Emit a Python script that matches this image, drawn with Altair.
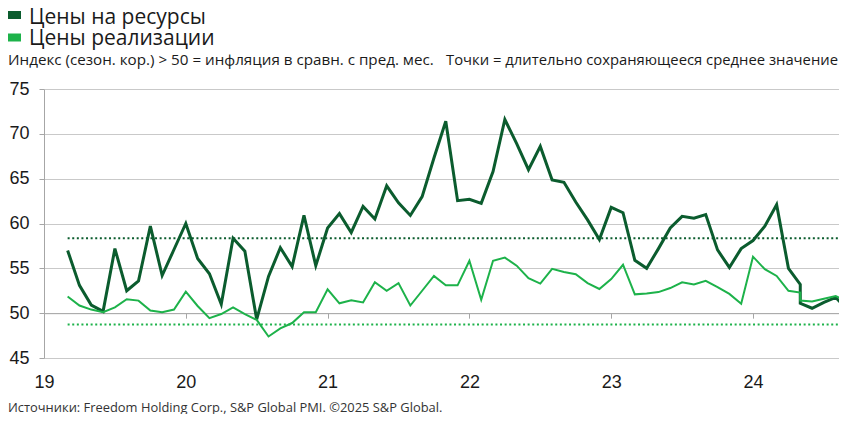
import altair as alt
import pandas as pd

# ---------------- data ----------------
months = (
    ["2019-%02d" % m for m in range(3, 13)]
    + ["%d-%02d" % (y, m) for y in range(2020, 2024) for m in range(1, 13)]
    + ["2024-01", "2024-02", "2024-03", "2024-04", "2024-05", "2024-05",
       "2024-06", "2024-07", "2024-08", "2024-09"]
)

input_prices = [
    57.0, 53.1, 50.9, 50.2, 57.2, 52.5, 53.6, 59.7, 54.2, 57.1,
    60.0, 56.1, 54.4, 51.0, 58.35, 56.9, 49.3, 54.1, 57.3, 55.2, 60.9, 55.3,
    59.5, 61.1, 59.0, 61.9, 60.5, 64.2, 62.3, 60.9, 63.0, 67.3, 71.4, 62.55,
    62.7, 62.25, 65.8, 71.6, 68.9, 66.0, 68.6, 64.85, 64.6, 62.4, 60.4, 58.2,
    61.8, 61.2, 55.9, 55.0, 57.2, 59.5, 60.8, 60.6, 61.0, 57.05, 55.1, 57.2,
    58.1, 59.7, 62.1, 55.0, 53.2, 51.1, 50.55, 51.2, 51.75, 50.4,
]

output_prices = [
    51.85, 50.85, 50.4, 50.1, 50.65, 51.55, 51.4, 50.3, 50.1, 50.4,
    52.4, 50.8, 49.45, 49.9, 50.65, 49.9, 49.25, 47.4, 48.3, 48.9, 50.1, 50.1,
    52.65, 51.1, 51.45, 51.2, 53.45, 52.5, 53.35, 50.85, 52.5, 54.15, 53.1, 53.1,
    55.85, 51.5, 55.85, 56.2, 55.3, 53.9, 53.3, 54.95, 54.6, 54.35, 53.35, 52.7,
    53.8, 55.4, 52.1, 52.2, 52.35, 52.8, 53.45, 53.2, 53.6, 52.9, 52.15, 51.05,
    56.3, 54.9, 54.15, 52.5, 52.3, 51.4, 51.3, 51.6, 51.9, 51.35,
]

series_names = ["Цены на ресурсы", "Цены реализации"]
series_colors = ["#0b5c2e", "#1db24a"]
long_run_avg = [58.35, 48.75]
year_labels = ["19", "20", "21", "22", "23", "24"]
y_ticks = [45, 50, 55, 60, 65, 70, 75]

subtitle_left = "Индекс (сезон. кор.) > 50 = инфляция в сравн. с пред. мес."
subtitle_right = "Точки = длительно сохраняющееся среднее значение"
source_text = "Источники: Freedom Holding Corp., S&P Global PMI. ©2025 S&P Global."

# ---------------- tables ----------------
def month_index(s):
    y, m = s.split("-")
    return (int(y) - 2019) * 12 + int(m) - 1

rows = []
for name, vals in zip(series_names, [input_prices, output_prices]):
    for i, (mo, v) in enumerate(zip(months, vals)):
        rows.append({"series": name, "m": month_index(mo), "v": v, "ord": i})
df = pd.DataFrame(rows)

first_m = month_index(months[0])
last_m = month_index(months[-1])
avg_rows = []
for name, a in zip(series_names, long_run_avg):
    avg_rows.append({"series": name, "m": first_m, "v": a})
    avg_rows.append({"series": name, "m": last_m, "v": a})
df_avg = pd.DataFrame(avg_rows)

# layout: page is 847 wide with an 8px body margin on each side
W, H = 795, 269
YEAR_PX = 141.8  # pixel width of one year on the reference
FONT = "Open Sans"
AX_FONT = "Liberation Sans"

x_domain = [0, W / (YEAR_PX / 12)]
year_ticks = [12 * i for i in range(len(year_labels))]
label_expr = "[" + ",".join("'%s'" % s for s in year_labels) + "][round(datum.value/12)]"

color_scale = alt.Scale(domain=series_names, range=series_colors)
x_scale = alt.Scale(domain=x_domain, nice=False, zero=False)

y_axis = alt.Axis(
    values=y_ticks, grid=True, gridColor="#c9c9c9", gridWidth=1,
    domainColor="#a6a6a6", tickColor="#a6a6a6", tickSize=5,
    labelFont=AX_FONT, labelFontSize=18, labelColor="#1a1a1a", labelPadding=10,
    title=None, orient="left",
)
y_enc = alt.Y("v:Q", scale=alt.Scale(domain=[45, 75], nice=False, zero=False), axis=y_axis)

# dotted long-run averages, carrying the axis line at 50 with the year ticks
avg_layer = alt.Chart(df_avg).mark_line(strokeWidth=2, strokeDash=[2, 2.6]).encode(
    x=alt.X("m:Q", scale=x_scale,
            axis=alt.Axis(values=year_ticks, labels=False, grid=False, ticks=True,
                          tickSize=5, tickColor="#a6a6a6", domainColor="#a6a6a6",
                          orient="bottom", offset=-H * 5 / 30, title=None)),
    y=y_enc,
    color=alt.Color("series:N", scale=color_scale, legend=None),
    detail="series:N",
)

line_layer = alt.Chart(df).mark_line(strokeJoin="miter").encode(
    x=alt.X("m:Q", scale=x_scale,
            axis=alt.Axis(values=year_ticks, labelExpr=label_expr, grid=False,
                          ticks=False, domain=False, labelFont=AX_FONT,
                          labelFontSize=18, labelColor="#1a1a1a", labelPadding=15,
                          labelFlush=False, labelOverlap=False,
                          orient="bottom", title=None)),
    y=y_enc,
    color=alt.Color("series:N", scale=color_scale, legend=None),
    strokeWidth=alt.StrokeWidth("series:N", scale=alt.Scale(domain=series_names, range=[3, 2]), legend=None),
    order="ord:Q",
)

# ---------------- legend & texts ----------------
swatches = []
texts = []
for i, name in enumerate(series_names):
    d = pd.DataFrame({"t": [name]})
    y0 = -78 + i * 22.5
    swatches.append(
        alt.Chart(d).mark_rect(color=series_colors[i]).encode(
            x=alt.value(-36), x2=alt.value(-23), y=alt.value(y0), y2=alt.value(y0 + 8)
        )
    )
    texts.append(
        alt.Chart(d).mark_text(align="left", baseline="alphabetic", font=FONT,
                               fontSize=21, color="#1a1a1a").encode(
            text="t:N", x=alt.value(-15), y=alt.value(-65 + i * 21)
        )
    )

sub_l = alt.Chart(pd.DataFrame({"t": [subtitle_left]})).mark_text(
    align="left", baseline="alphabetic", font=FONT, fontSize=15.2, color="#1a1a1a"
).encode(text="t:N", x=alt.value(-36), y=alt.value(-24))

sub_r = alt.Chart(pd.DataFrame({"t": [subtitle_right]})).mark_text(
    align="right", baseline="alphabetic", font=FONT, fontSize=14.8, color="#1a1a1a"
).encode(text="t:N", x=alt.value(794), y=alt.value(-24))

src = alt.Chart(pd.DataFrame({"t": [source_text]})).mark_text(
    align="left", baseline="alphabetic", font=FONT, fontSize=12.9, color="#333333"
).encode(text="t:N", x=alt.value(-36), y=alt.value(322.5))

chart = alt.layer(
    avg_layer, line_layer, *swatches, *texts, sub_l, sub_r, src
).resolve_axis(x="independent").resolve_scale(x="shared").properties(
    width=W, height=H,
    autosize=alt.AutoSizeParams(type="none"),
    padding={"left": 36, "top": 81, "right": 0, "bottom": 56},
    background="white",
).configure_view(stroke=None)

chart.save("out.html", embed_options={"renderer": "svg", "actions": False})
